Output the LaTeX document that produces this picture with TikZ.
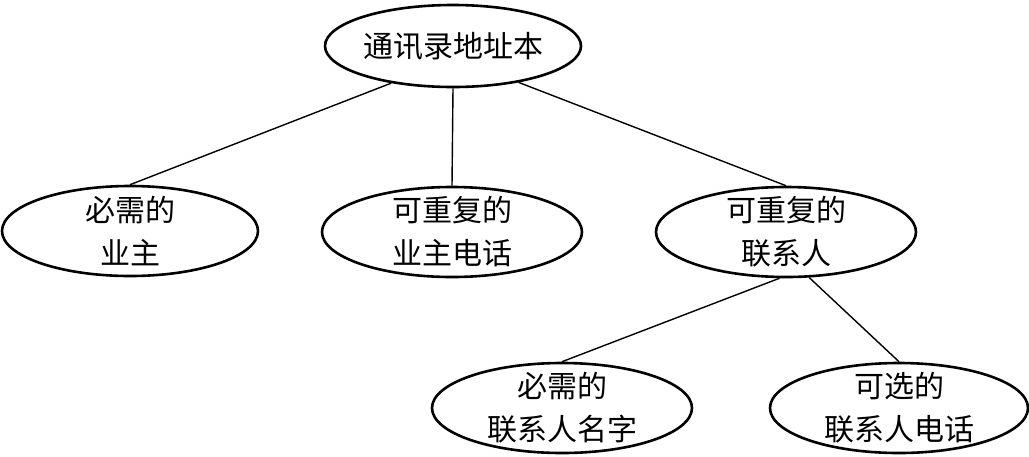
\documentclass[tikz,border=0pt]{standalone}
\usepackage{fontspec}
\newfontfamily\cjk{Noto Sans CJK SC}
\usetikzlibrary{shapes.geometric}
\tikzset{
    % 椭圆结点
    entity/.style={
        ellipse,
        draw=black,
        line width=1.3pt,
        inner sep=-5pt,
        align=center,
        font=\cjk\fontsize{15pt}{21.5pt}\selectfont
    },
    % 连线
    link/.style={
        line width=0.7pt,
        black
    }
}
\begin{document}
\begin{tikzpicture}[x=0.5pt,y=-0.5pt]
    \useasboundingbox (0,0) rectangle (1029,456);

    % ========== 第一层 ==========
    \node[entity,minimum width=128pt,minimum height=41pt] (book) at (453,46) {通讯录地址本};

    % ========== 第二层 ==========
    \node[entity,minimum width=128pt,minimum height=45pt] (owner) at (130,231) {必需的\\业主};
    \node[entity,minimum width=130pt,minimum height=45pt] (phone) at (452,232) {可重复的\\业主电话};
    \node[entity,minimum width=130pt,minimum height=45pt] (contact) at (786,232) {可重复的\\联系人};

    % ========== 第三层 ==========
    \node[entity,minimum width=130pt,minimum height=45pt] (cname) at (562,408) {必需的\\联系人名字};
    \node[entity,minimum width=129pt,minimum height=45pt] (cphone) at (899,408) {可选的\\联系人电话};

    % 连线
    \draw[link] (book.211) -- (owner.north);
    \draw[link] (book.south) -- (phone.north);
    \draw[link] (book.331) -- (contact.north);
    \draw[link] (contact.262) -- (cname.north);
    \draw[link] (contact.297) -- (cphone.north);
\end{tikzpicture}
\end{document}
